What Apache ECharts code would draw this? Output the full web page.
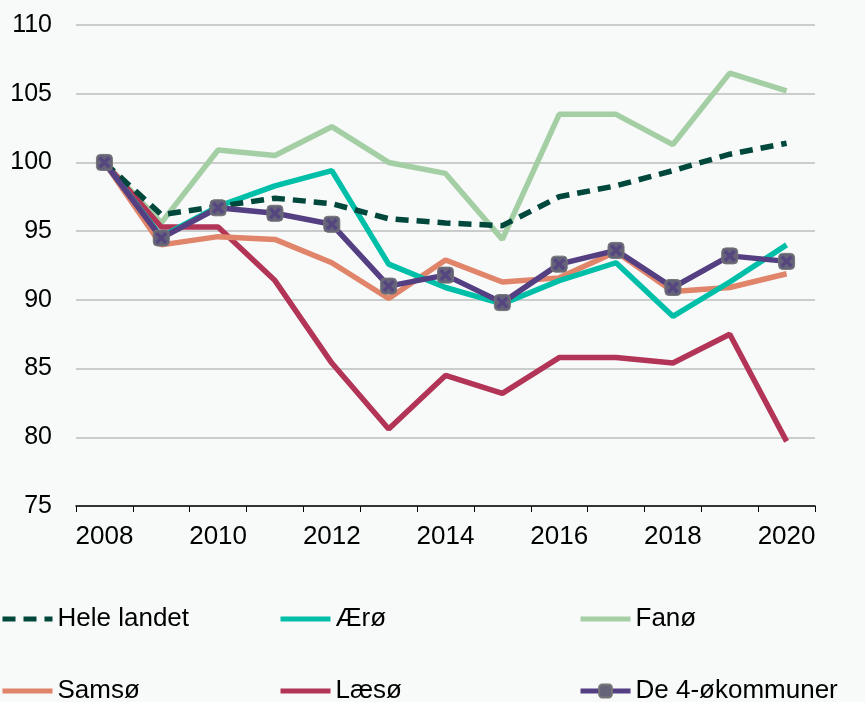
<!DOCTYPE html>
<html>
<head>
<meta charset="utf-8">
<script src="https://cdn.jsdelivr.net/npm/echarts@6/dist/echarts.min.js"></script>
<style>
  html, body { margin: 0; padding: 0; background: #f8f9f9; }
  #main { width: 865px; height: 702px; }
</style>
</head>
<body>
<div id="main"></div>
<script>
// år og indeks (2008 = 100)
const years = ['2008','2009','2010','2011','2012','2013','2014','2015','2016','2017','2018','2019','2020'];
const heleLandet = [100, 96.2, 96.8, 97.4, 97.0, 95.9, 95.6, 95.4, 97.5, 98.3, 99.4, 100.6, 101.4];
const aeroe      = [100, 94.6, 96.8, 98.3, 99.4, 92.6, 90.9, 89.7, 91.4, 92.7, 88.8, 91.3, 94.0];
const fanoe      = [100, 95.6, 100.9, 100.5, 102.6, 100.0, 99.2, 94.4, 103.5, 103.5, 101.3, 106.5, 105.2];
const samsoe     = [100, 94.0, 94.6, 94.4, 92.7, 90.1, 92.9, 91.3, 91.6, 93.5, 90.6, 90.9, 91.9];
const laesoe     = [100, 95.3, 95.3, 91.4, 85.4, 80.6, 84.5, 83.2, 85.8, 85.8, 85.4, 87.5, 79.7];
const de4        = [100, 94.5, 96.7, 96.3, 95.5, 91.0, 91.8, 89.8, 92.6, 93.6, 90.9, 93.2, 92.8];

const xPath = 'path://M2,0 L5,3 L8,0 L10,2 L7,5 L10,8 L8,10 L5,7 L2,10 L0,8 L3,5 L0,2 Z';
const font = 'Liberation Sans, Arial, sans-serif';

var myChart = echarts.init(document.getElementById('main'));

function line(name, data, color, extra) {
  return Object.assign({
    name: name,
    type: 'line',
    data: data,
    symbol: 'none',
    lineStyle: { color: color, width: 5.5 },
    itemStyle: { color: color },
    z: 2
  }, extra || {});
}

// en legende pr. serie, så kolonnerne står præcist
function legendAt(name, left, top, withSymbol) {
  return {
    data: [name],
    left: left,
    top: top,
    padding: 0,
    itemWidth: 50,
    itemHeight: 16,
    textStyle: { fontFamily: font, fontSize: 26, color: '#000' },
    lineStyle: { width: 5 },
    itemStyle: withSymbol ? {} : { opacity: 0 },
    selectedMode: false
  };
}

var option = {
  backgroundColor: '#f8f9f9',
  animation: false,
  grid: { left: 76, right: 50, top: 25, bottom: 196 },
  legend: [
    legendAt('Hele landet', 0, 606),
    legendAt('Ærø', 278, 606),
    legendAt('Fanø', 578, 606),
    legendAt('Samsø', 0, 678),
    legendAt('Læsø', 278, 678),
    legendAt('De 4-økommuner', 578, 678, true)
  ],
  xAxis: {
    type: 'category',
    data: years,
    boundaryGap: true,
    axisLine: { lineStyle: { color: '#000', width: 1.5 } },
    axisTick: { show: true, interval: 0, length: 6, lineStyle: { color: '#000', width: 1 } },
    axisLabel: { interval: 1, margin: 18, fontFamily: font, fontSize: 26, color: '#000' },
    splitLine: { show: false }
  },
  yAxis: {
    type: 'value',
    min: 75,
    max: 110,
    interval: 5,
    axisLine: { show: false },
    axisTick: { show: false },
    axisLabel: { margin: 24, fontFamily: font, fontSize: 25, color: '#000' },
    splitLine: { lineStyle: { color: '#bdbdbd', width: 1.5 } }
  },
  series: [
    line('Fanø', fanoe, '#a4cfa5'),
    line('Læsø', laesoe, '#b23557'),
    line('Samsø', samsoe, '#e0846a'),
    line('Ærø', aeroe, '#00bfa8'),
    line('Hele landet', heleLandet, '#00473c', {
      lineStyle: { color: '#00473c', width: 5.5, type: [13, 8] }
    }),
    line('De 4-økommuner', de4, '#533f82', {
      symbol: 'roundRect',
      symbolSize: 16,
      showSymbol: true,
      itemStyle: { color: '#65637a', borderColor: '#767676', borderWidth: 1 },
      z: 3
    }),
    {
      name: 'De 4-økommuner-x',
      type: 'scatter',
      data: de4,
      symbol: xPath,
      symbolSize: 12,
      itemStyle: { color: '#533f82' },
      silent: true,
      z: 4
    }
  ]
};

myChart.setOption(option);
</script>
</body>
</html>
